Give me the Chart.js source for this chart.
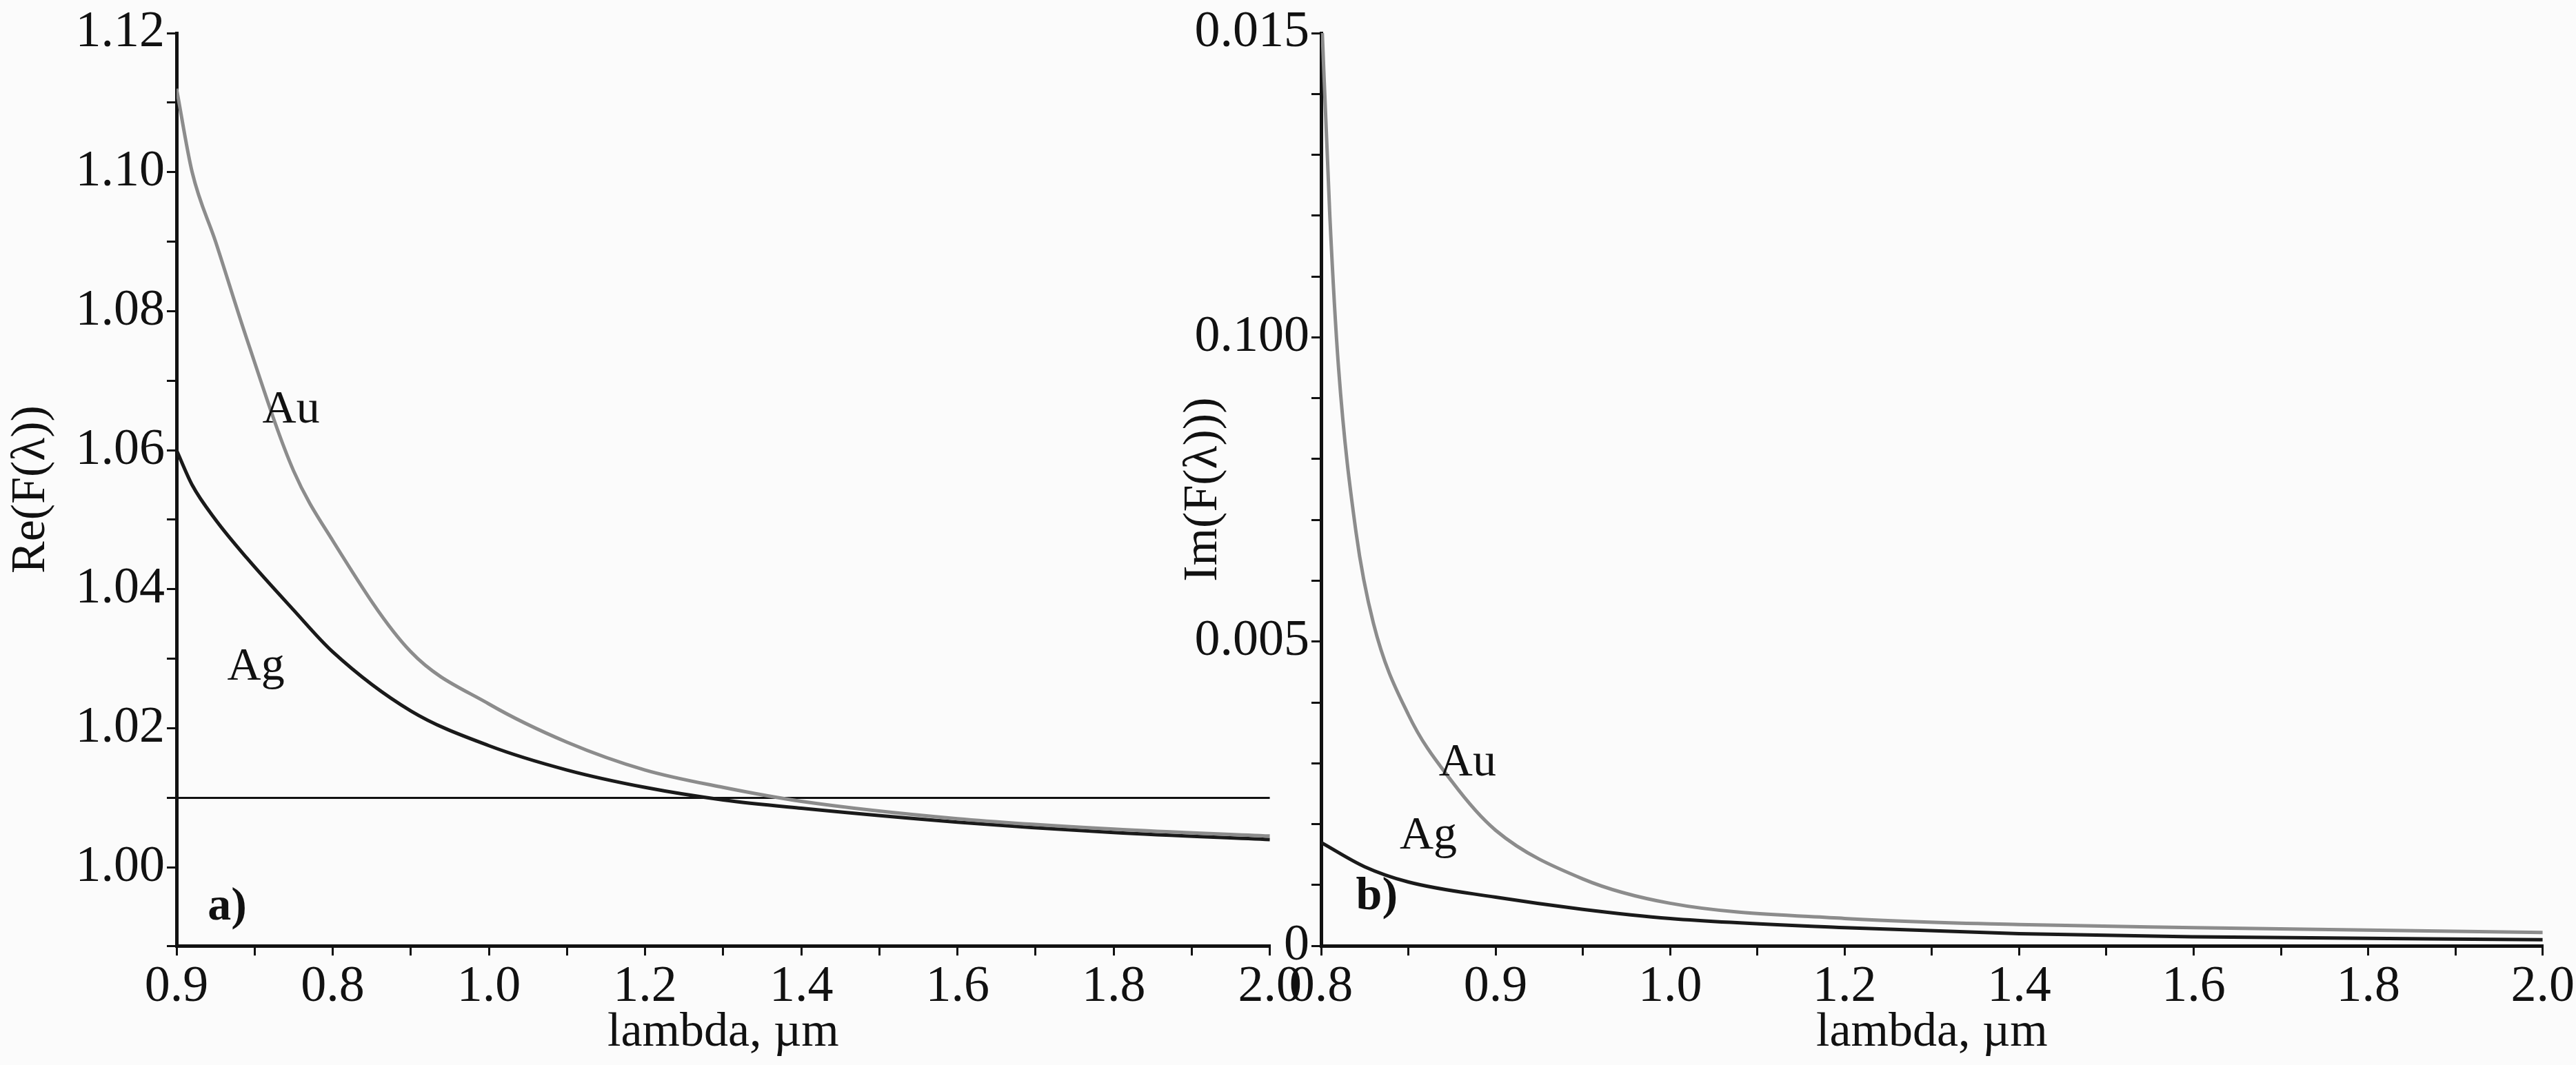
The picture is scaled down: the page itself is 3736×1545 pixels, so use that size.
<!DOCTYPE html>
<html>
<head>
<meta charset="utf-8">
<script src="https://cdn.jsdelivr.net/npm/chart.js@4"></script>
<style>
  body { margin: 0; background: #fbfbfb; width: 3736px; height: 1545px; overflow: hidden; }
  .box { position: absolute; top: 0; height: 1545px; }
</style>
</head>
<body>
<div class="box" style="left:0;width:1890px"><canvas id="re"></canvas></div>
<div class="box" style="left:1700px;width:2036px"><canvas id="im"></canvas></div>
<script>
// x positions (axis runs 0.6..2.0, tick labels as printed in the figure)
const xRe = [0.6, 0.62, 0.65, 0.69, 0.75, 0.8, 0.9, 1.0, 1.1, 1.2, 1.3, 1.4, 1.6, 1.8, 2.0];
const reAu = [1.112, 1.100, 1.090, 1.076, 1.057, 1.047, 1.031, 1.0235, 1.018, 1.014, 1.0115, 1.0095, 1.007, 1.0055, 1.0045];
const reAg = [1.060, 1.055, 1.050, 1.0445, 1.037, 1.031, 1.0225, 1.0175, 1.014, 1.0115, 1.0097, 1.0085, 1.0065, 1.005, 1.004];
const refLine = 1.01;

const xImAu = [0.6, 0.61, 0.62, 0.64, 0.66, 0.7, 0.75, 0.8, 0.9, 1.0, 1.2, 1.4, 1.6, 2.0];
const imAu = [0.0155, 0.012, 0.0095, 0.0068, 0.0053, 0.0038, 0.0027, 0.0019, 0.0011, 0.0007, 0.00045, 0.00035, 0.0003, 0.00022];
const xImAg = [0.6, 0.65, 0.7, 0.8, 0.9, 1.0, 1.2, 1.4, 1.6, 2.0];
const imAg = [0.0017, 0.0013, 0.00105, 0.0008, 0.0006, 0.00045, 0.0003, 0.0002, 0.00015, 0.0001];

const xLabelsRe = ['0.9', '0.8', '1.0', '1.2', '1.4', '1.6', '1.8', '2.0'];
const xLabelsIm = ['0.8', '0.9', '1.0', '1.2', '1.4', '1.6', '1.8', '2.0'];
const yLabelsIm = {0: '0', 5: '0.005', 10: '0.100', 15: '0.015'};

const FONT = 'Liberation Serif';
Chart.defaults.font.family = FONT;
Chart.defaults.color = '#111';

const pts = (xs, ys) => xs.map((x, i) => ({x: x, y: ys[i]}));

const notes = {
  id: 'notes',
  afterDatasetsDraw(chart, args, opts) {
    const c = chart.ctx, xs = chart.scales.x, ys = chart.scales.y;
    c.save();
    c.fillStyle = '#111';
    opts.items.forEach(t => {
      c.font = (t.bold ? 'bold ' : '') + '68px ' + FONT;
      c.fillText(t.text, xs.getPixelForValue(t.x), ys.getPixelForValue(t.y));
    });
    c.restore();
  }
};

function xAxis(labels) {
  return {
    type: 'linear', min: 0.6, max: 2.0,
    ticks: {
      stepSize: 0.1, autoSkip: false, maxRotation: 0, font: {size: 74}, padding: 2,
      callback: v => {
        const k = Math.round((v - 0.6) * 10);
        return k % 2 === 0 ? labels[k / 2] : '';
      }
    },
    grid: {drawOnChartArea: false, color: '#111', tickLength: 14, lineWidth: 3},
    border: {color: '#111', width: 5},
    title: {display: true, text: 'lambda, \u00b5m', font: {size: 70}, padding: {top: -22}}
  };
}

function baseOpts(yAxis, yWidth, padRight, items) {
  return {
    responsive: true, maintainAspectRatio: false, animation: false,
    layout: {padding: {top: 48, right: padRight, bottom: 0}},
    plugins: {legend: {display: false}, tooltip: {enabled: false}, notes: {items: items}},
    elements: {point: {radius: 0}, line: {borderWidth: 5, cubicInterpolationMode: 'monotone'}},
    scales: {x: null, y: Object.assign(yAxis, {afterFit: s => { s.width = yWidth; }})}
  };
}

const optRe = baseOpts({
  type: 'linear', min: 0.9887, max: 1.12,
  ticks: {stepSize: 0.01, autoSkip: false, font: {size: 74},
    callback: v => Math.round(v * 100) % 2 === 0 ? v.toFixed(2) : ''},
  grid: {drawOnChartArea: false, color: '#111', tickLength: 14, lineWidth: 3},
  border: {color: '#111', width: 5},
  title: {display: true, text: 'Re(F(\u03bb))', font: {size: 70}, padding: {bottom: 0}}
}, 256, 27, [
  {text: 'Au', x: 0.71, y: 1.064},
  {text: 'Ag', x: 0.665, y: 1.027},
  {text: 'a)', x: 0.64, y: 0.9925, bold: true}
]);
optRe.scales.x = xAxis(xLabelsRe);

new Chart(document.getElementById('re'), {
  type: 'line',
  data: {datasets: [
    {data: pts(xRe, reAu), borderColor: '#8c8c8c'},
    {data: pts(xRe, reAg), borderColor: '#1a1a1a'},
    {data: [{x: 0.6, y: refLine}, {x: 2.0, y: refLine}], borderColor: '#111', borderWidth: 3}
  ]},
  options: optRe,
  plugins: [notes]
});

const optIm = baseOpts({
  type: 'linear', min: 0, max: 0.015,
  ticks: {stepSize: 0.001, autoSkip: false, font: {size: 74},
    callback: v => yLabelsIm[Math.round(v * 1000)] || ''},
  grid: {drawOnChartArea: false, color: '#111', tickLength: 14, lineWidth: 3},
  border: {color: '#111', width: 5},
  title: {display: true, text: 'Im(F(\u03bb)))', font: {size: 70}, padding: {bottom: 0}}
}, 216, 36, [
  {text: 'Au', x: 0.735, y: 0.0028},
  {text: 'Ag', x: 0.69, y: 0.0016},
  {text: 'b)', x: 0.64, y: 0.0006, bold: true}
]);
optIm.scales.x = xAxis(xLabelsIm);

new Chart(document.getElementById('im'), {
  type: 'line',
  data: {datasets: [
    {data: pts(xImAu, imAu), borderColor: '#8c8c8c'},
    {data: pts(xImAg, imAg), borderColor: '#1a1a1a'}
  ]},
  options: optIm,
  plugins: [notes]
});
</script>
</body>
</html>
